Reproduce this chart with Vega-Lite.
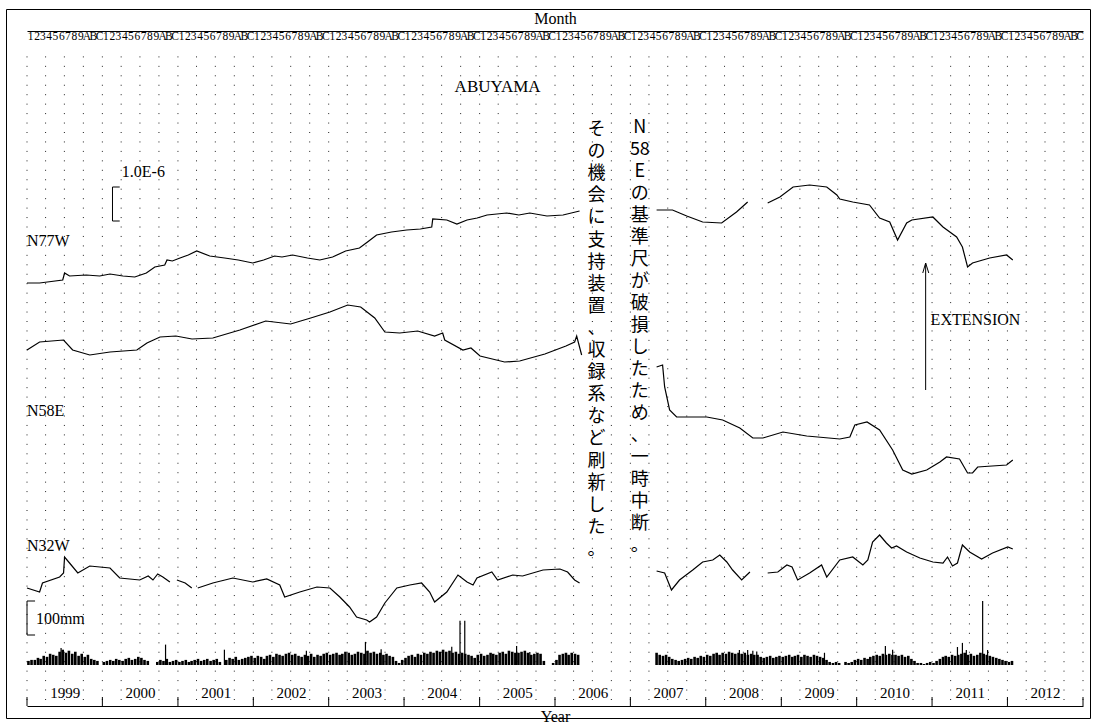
{
  "$schema": "https://vega.github.io/schema/vega-lite/v6.json",
  "width": 1084,
  "height": 709,
  "autosize": {"type": "none"},
  "padding": {"left": 6, "top": 9, "right": 6, "bottom": 7},
  "background": "white",
  "config": {
    "view": {"stroke": "black", "strokeWidth": 1},
    "font": "Liberation Serif",
    "axis": {"labelFont": "Liberation Serif", "titleFont": "Liberation Serif", "labelColor": "black", "titleColor": "black", "titleFontWeight": "normal", "domainColor": "black", "tickColor": "black", "grid": false}
  },
  "datasets": {
    "grid": [
      {"q":"1999-01-01"},{"q":"1999-04-01"},{"q":"1999-07-01"},{"q":"1999-10-01"},
      {"q":"2000-01-01"},{"q":"2000-04-01"},{"q":"2000-07-01"},{"q":"2000-10-01"},
      {"q":"2001-01-01"},{"q":"2001-04-01"},{"q":"2001-07-01"},{"q":"2001-10-01"},
      {"q":"2002-01-01"},{"q":"2002-04-01"},{"q":"2002-07-01"},{"q":"2002-10-01"},
      {"q":"2003-01-01"},{"q":"2003-04-01"},{"q":"2003-07-01"},{"q":"2003-10-01"},
      {"q":"2004-01-01"},{"q":"2004-04-01"},{"q":"2004-07-01"},{"q":"2004-10-01"},
      {"q":"2005-01-01"},{"q":"2005-04-01"},{"q":"2005-07-01"},{"q":"2005-10-01"},
      {"q":"2006-01-01"},{"q":"2006-04-01"},{"q":"2006-07-01"},{"q":"2006-10-01"},
      {"q":"2007-01-01"},{"q":"2007-04-01"},{"q":"2007-07-01"},{"q":"2007-10-01"},
      {"q":"2008-01-01"},{"q":"2008-04-01"},{"q":"2008-07-01"},{"q":"2008-10-01"},
      {"q":"2009-01-01"},{"q":"2009-04-01"},{"q":"2009-07-01"},{"q":"2009-10-01"},
      {"q":"2010-01-01"},{"q":"2010-04-01"},{"q":"2010-07-01"},{"q":"2010-10-01"},
      {"q":"2011-01-01"},{"q":"2011-04-01"},{"q":"2011-07-01"},{"q":"2011-10-01"},
      {"q":"2012-01-01"},{"q":"2012-04-01"},{"q":"2012-07-01"},{"q":"2012-10-01"},
      {"q":"2013-01-01"}
    ],
    "years": [
      {"y":"1999-01-01"},{"y":"2000-01-01"},{"y":"2001-01-01"},{"y":"2002-01-01"},{"y":"2003-01-01"},
      {"y":"2004-01-01"},{"y":"2005-01-01"},{"y":"2006-01-01"},{"y":"2007-01-01"},{"y":"2008-01-01"},
      {"y":"2009-01-01"},{"y":"2010-01-01"},{"y":"2011-01-01"},{"y":"2012-01-01"},{"y":"2013-01-01"}
    ],
    "strain": [
      {"s":"N77W","g":1,"d":"1999-01-01","v":435},{"s":"N77W","g":1,"d":"1999-03-03","v":435},{"s":"N77W","g":1,"d":"1999-06-23","v":438},{"s":"N77W","g":1,"d":"1999-07-02","v":445},{"s":"N77W","g":1,"d":"1999-07-26","v":442},{"s":"N77W","g":1,"d":"1999-10-15","v":443},{"s":"N77W","g":1,"d":"1999-12-19","v":442},{"s":"N77W","g":1,"d":"2000-02-07","v":444},{"s":"N77W","g":1,"d":"2000-04-10","v":442},{"s":"N77W","g":1,"d":"2000-06-06","v":441},{"s":"N77W","g":1,"d":"2000-08-01","v":445},{"s":"N77W","g":1,"d":"2000-09-11","v":451},{"s":"N77W","g":1,"d":"2000-10-29","v":453},{"s":"N77W","g":1,"d":"2000-11-09","v":458},{"s":"N77W","g":1,"d":"2000-12-05","v":457},{"s":"N77W","g":1,"d":"2001-01-11","v":460},{"s":"N77W","g":1,"d":"2001-02-20","v":463},{"s":"N77W","g":1,"d":"2001-04-02","v":467},{"s":"N77W","g":1,"d":"2001-06-04","v":462},{"s":"N77W","g":1,"d":"2001-08-15","v":460},{"s":"N77W","g":1,"d":"2001-10-20","v":458},{"s":"N77W","g":1,"d":"2001-12-29","v":455},{"s":"N77W","g":1,"d":"2002-02-20","v":458},{"s":"N77W","g":1,"d":"2002-04-14","v":462},{"s":"N77W","g":1,"d":"2002-05-20","v":461},{"s":"N77W","g":1,"d":"2002-07-10","v":463},{"s":"N77W","g":1,"d":"2002-09-20","v":460},{"s":"N77W","g":1,"d":"2002-11-19","v":458},{"s":"N77W","g":1,"d":"2003-01-20","v":461},{"s":"N77W","g":1,"d":"2003-03-24","v":467},{"s":"N77W","g":1,"d":"2003-05-30","v":470},{"s":"N77W","g":1,"d":"2003-07-08","v":476},{"s":"N77W","g":1,"d":"2003-08-21","v":483},{"s":"N77W","g":1,"d":"2003-11-01","v":486},{"s":"N77W","g":1,"d":"2004-01-14","v":488},{"s":"N77W","g":1,"d":"2004-03-20","v":489},{"s":"N77W","g":1,"d":"2004-05-14","v":491},{"s":"N77W","g":1,"d":"2004-05-19","v":499},{"s":"N77W","g":1,"d":"2004-07-26","v":498},{"s":"N77W","g":1,"d":"2004-09-13","v":494},{"s":"N77W","g":1,"d":"2004-11-01","v":498},{"s":"N77W","g":1,"d":"2004-12-20","v":500},{"s":"N77W","g":1,"d":"2005-02-06","v":503},{"s":"N77W","g":1,"d":"2005-05-12","v":505},{"s":"N77W","g":1,"d":"2005-07-10","v":503},{"s":"N77W","g":1,"d":"2005-09-01","v":505},{"s":"N77W","g":1,"d":"2005-11-23","v":502},{"s":"N77W","g":1,"d":"2006-02-09","v":503},{"s":"N77W","g":1,"d":"2006-04-30","v":507},
      {"s":"N77W","g":2,"d":"2007-05-08","v":508},{"s":"N77W","g":2,"d":"2007-07-24","v":508},{"s":"N77W","g":2,"d":"2007-10-01","v":502},{"s":"N77W","g":2,"d":"2007-12-17","v":496},{"s":"N77W","g":2,"d":"2008-03-18","v":495},{"s":"N77W","g":2,"d":"2008-05-29","v":506},{"s":"N77W","g":2,"d":"2008-07-22","v":516},
      {"s":"N77W","g":3,"d":"2008-10-27","v":515},{"s":"N77W","g":3,"d":"2008-12-25","v":521},{"s":"N77W","g":3,"d":"2009-02-27","v":531},{"s":"N77W","g":3,"d":"2009-05-18","v":533},{"s":"N77W","g":3,"d":"2009-08-09","v":531},{"s":"N77W","g":3,"d":"2009-09-27","v":523},{"s":"N77W","g":3,"d":"2009-10-11","v":519},{"s":"N77W","g":3,"d":"2009-12-13","v":516},{"s":"N77W","g":3,"d":"2010-03-04","v":513},{"s":"N77W","g":3,"d":"2010-04-22","v":500},{"s":"N77W","g":3,"d":"2010-06-10","v":496},{"s":"N77W","g":3,"d":"2010-07-18","v":478},{"s":"N77W","g":3,"d":"2010-08-31","v":495},{"s":"N77W","g":3,"d":"2010-09-25","v":498},{"s":"N77W","g":3,"d":"2011-01-05","v":501},{"s":"N77W","g":3,"d":"2011-02-23","v":491},{"s":"N77W","g":3,"d":"2011-04-30","v":481},{"s":"N77W","g":3,"d":"2011-05-28","v":471},{"s":"N77W","g":3,"d":"2011-06-22","v":451},{"s":"N77W","g":3,"d":"2011-07-16","v":455},{"s":"N77W","g":3,"d":"2011-10-07","v":460},{"s":"N77W","g":3,"d":"2011-12-28","v":463},{"s":"N77W","g":3,"d":"2012-01-27","v":458},
      {"s":"N58E","g":4,"d":"1999-01-01","v":368},{"s":"N58E","g":4,"d":"1999-03-03","v":376},{"s":"N58E","g":4,"d":"1999-06-27","v":378},{"s":"N58E","g":4,"d":"1999-08-10","v":368},{"s":"N58E","g":4,"d":"1999-11-01","v":363},{"s":"N58E","g":4,"d":"2000-02-07","v":366},{"s":"N58E","g":4,"d":"2000-06-16","v":368},{"s":"N58E","g":4,"d":"2000-08-04","v":375},{"s":"N58E","g":4,"d":"2000-10-06","v":381},{"s":"N58E","g":4,"d":"2000-12-22","v":382},{"s":"N58E","g":4,"d":"2001-03-10","v":379},{"s":"N58E","g":4,"d":"2001-06-19","v":380},{"s":"N58E","g":4,"d":"2001-10-28","v":388},{"s":"N58E","g":4,"d":"2002-03-02","v":397},{"s":"N58E","g":4,"d":"2002-07-01","v":394},{"s":"N58E","g":4,"d":"2002-10-06","v":400},{"s":"N58E","g":4,"d":"2003-01-07","v":406},{"s":"N58E","g":4,"d":"2003-04-03","v":413},{"s":"N58E","g":4,"d":"2003-06-05","v":411},{"s":"N58E","g":4,"d":"2003-08-12","v":400},{"s":"N58E","g":4,"d":"2003-09-30","v":386},{"s":"N58E","g":4,"d":"2003-12-11","v":385},{"s":"N58E","g":4,"d":"2004-03-07","v":387},{"s":"N58E","g":4,"d":"2004-05-28","v":382},{"s":"N58E","g":4,"d":"2004-07-06","v":385},{"s":"N58E","g":4,"d":"2004-07-16","v":378},{"s":"N58E","g":4,"d":"2004-10-12","v":368},{"s":"N58E","g":4,"d":"2004-11-20","v":370},{"s":"N58E","g":4,"d":"2005-01-03","v":362},{"s":"N58E","g":4,"d":"2005-05-02","v":356},{"s":"N58E","g":4,"d":"2005-07-14","v":357},{"s":"N58E","g":4,"d":"2005-11-13","v":364},{"s":"N58E","g":4,"d":"2006-02-23","v":372},{"s":"N58E","g":4,"d":"2006-04-06","v":376},{"s":"N58E","g":4,"d":"2006-04-16","v":382},{"s":"N58E","g":4,"d":"2006-05-10","v":363},
      {"s":"N58E","g":5,"d":"2007-05-08","v":351},{"s":"N58E","g":5,"d":"2007-06-06","v":353},{"s":"N58E","g":5,"d":"2007-06-16","v":331},{"s":"N58E","g":5,"d":"2007-07-10","v":308},{"s":"N58E","g":5,"d":"2007-08-13","v":301},{"s":"N58E","g":5,"d":"2008-01-06","v":301},{"s":"N58E","g":5,"d":"2008-03-23","v":298},{"s":"N58E","g":5,"d":"2008-06-14","v":290},{"s":"N58E","g":5,"d":"2008-08-16","v":280},{"s":"N58E","g":5,"d":"2008-10-04","v":280},{"s":"N58E","g":5,"d":"2009-01-09","v":286},{"s":"N58E","g":5,"d":"2009-05-04","v":282},{"s":"N58E","g":5,"d":"2009-10-11","v":279},{"s":"N58E","g":5,"d":"2009-11-29","v":281},{"s":"N58E","g":5,"d":"2009-12-23","v":293},{"s":"N58E","g":5,"d":"2010-02-20","v":296},{"s":"N58E","g":5,"d":"2010-04-22","v":288},{"s":"N58E","g":5,"d":"2010-06-24","v":268},{"s":"N58E","g":5,"d":"2010-08-12","v":248},{"s":"N58E","g":5,"d":"2010-09-25","v":244},{"s":"N58E","g":5,"d":"2010-12-06","v":248},{"s":"N58E","g":5,"d":"2011-02-08","v":256},{"s":"N58E","g":5,"d":"2011-03-12","v":261},{"s":"N58E","g":5,"d":"2011-05-14","v":259},{"s":"N58E","g":5,"d":"2011-06-22","v":245},{"s":"N58E","g":5,"d":"2011-07-16","v":245},{"s":"N58E","g":5,"d":"2011-08-10","v":251},{"s":"N58E","g":5,"d":"2011-12-28","v":253},{"s":"N58E","g":5,"d":"2012-01-27","v":258},
      {"s":"N32W","g":6,"d":"1999-01-01","v":130},{"s":"N32W","g":6,"d":"1999-03-03","v":126},{"s":"N32W","g":6,"d":"1999-03-17","v":135},{"s":"N32W","g":6,"d":"1999-06-08","v":141},{"s":"N32W","g":6,"d":"1999-06-27","v":145},{"s":"N32W","g":6,"d":"1999-07-02","v":161},{"s":"N32W","g":6,"d":"1999-07-26","v":155},{"s":"N32W","g":6,"d":"1999-09-04","v":145},{"s":"N32W","g":6,"d":"1999-11-01","v":152},{"s":"N32W","g":6,"d":"2000-02-07","v":150},{"s":"N32W","g":6,"d":"2000-03-25","v":140},{"s":"N32W","g":6,"d":"2000-06-30","v":138},{"s":"N32W","g":6,"d":"2000-08-10","v":142},{"s":"N32W","g":6,"d":"2000-09-02","v":138},{"s":"N32W","g":6,"d":"2000-09-25","v":144},{"s":"N32W","g":6,"d":"2000-10-20","v":141},{"s":"N32W","g":6,"d":"2000-11-23","v":136},
      {"s":"N32W","g":7,"d":"2000-12-27","v":138},{"s":"N32W","g":7,"d":"2001-02-05","v":135},{"s":"N32W","g":7,"d":"2001-03-09","v":130},
      {"s":"N32W","g":8,"d":"2001-04-07","v":130},{"s":"N32W","g":8,"d":"2001-06-19","v":135},{"s":"N32W","g":8,"d":"2001-09-24","v":140},{"s":"N32W","g":8,"d":"2001-12-29","v":136},{"s":"N32W","g":8,"d":"2002-03-07","v":139},{"s":"N32W","g":8,"d":"2002-05-09","v":133},{"s":"N32W","g":8,"d":"2002-06-02","v":121},{"s":"N32W","g":8,"d":"2002-08-14","v":126},{"s":"N32W","g":8,"d":"2002-11-05","v":131},{"s":"N32W","g":8,"d":"2003-01-07","v":130},{"s":"N32W","g":8,"d":"2003-02-24","v":121},{"s":"N32W","g":8,"d":"2003-04-12","v":111},{"s":"N32W","g":8,"d":"2003-05-16","v":101},{"s":"N32W","g":8,"d":"2003-07-04","v":98},{"s":"N32W","g":8,"d":"2003-07-18","v":96},{"s":"N32W","g":8,"d":"2003-08-21","v":101},{"s":"N32W","g":8,"d":"2003-09-30","v":115},{"s":"N32W","g":8,"d":"2003-11-27","v":130},{"s":"N32W","g":8,"d":"2004-01-29","v":133},{"s":"N32W","g":8,"d":"2004-03-26","v":135},{"s":"N32W","g":8,"d":"2004-05-04","v":126},{"s":"N32W","g":8,"d":"2004-05-28","v":116},{"s":"N32W","g":8,"d":"2004-07-26","v":126},{"s":"N32W","g":8,"d":"2004-09-18","v":143},{"s":"N32W","g":8,"d":"2004-11-01","v":136},{"s":"N32W","g":8,"d":"2004-11-30","v":133},{"s":"N32W","g":8,"d":"2004-12-19","v":140},{"s":"N32W","g":8,"d":"2005-03-01","v":146},{"s":"N32W","g":8,"d":"2005-03-29","v":138},{"s":"N32W","g":8,"d":"2005-06-10","v":143},{"s":"N32W","g":8,"d":"2005-07-28","v":142},{"s":"N32W","g":8,"d":"2005-11-04","v":148},{"s":"N32W","g":8,"d":"2006-01-25","v":149},{"s":"N32W","g":8,"d":"2006-03-03","v":146},{"s":"N32W","g":8,"d":"2006-04-06","v":138},{"s":"N32W","g":8,"d":"2006-04-30","v":135},
      {"s":"N32W","g":9,"d":"2007-05-08","v":147},{"s":"N32W","g":9,"d":"2007-06-16","v":145},{"s":"N32W","g":9,"d":"2007-07-19","v":128},{"s":"N32W","g":9,"d":"2007-08-27","v":138},{"s":"N32W","g":9,"d":"2007-10-30","v":148},{"s":"N32W","g":9,"d":"2007-12-17","v":156},{"s":"N32W","g":9,"d":"2008-02-04","v":158},{"s":"N32W","g":9,"d":"2008-03-09","v":163},{"s":"N32W","g":9,"d":"2008-04-12","v":156},{"s":"N32W","g":9,"d":"2008-05-10","v":148},{"s":"N32W","g":9,"d":"2008-06-23","v":138},{"s":"N32W","g":9,"d":"2008-08-02","v":146},
      {"s":"N32W","g":10,"d":"2008-10-27","v":145},{"s":"N32W","g":10,"d":"2008-12-15","v":146},{"s":"N32W","g":10,"d":"2009-01-28","v":153},{"s":"N32W","g":10,"d":"2009-02-22","v":151},{"s":"N32W","g":10,"d":"2009-03-21","v":138},{"s":"N32W","g":10,"d":"2009-05-18","v":145},{"s":"N32W","g":10,"d":"2009-07-15","v":153},{"s":"N32W","g":10,"d":"2009-08-09","v":141},{"s":"N32W","g":10,"d":"2009-10-11","v":158},{"s":"N32W","g":10,"d":"2009-12-13","v":161},{"s":"N32W","g":10,"d":"2010-01-31","v":153},{"s":"N32W","g":10,"d":"2010-02-24","v":158},{"s":"N32W","g":10,"d":"2010-03-19","v":176},{"s":"N32W","g":10,"d":"2010-04-22","v":183},{"s":"N32W","g":10,"d":"2010-05-25","v":175},{"s":"N32W","g":10,"d":"2010-06-19","v":170},{"s":"N32W","g":10,"d":"2010-07-13","v":172},{"s":"N32W","g":10,"d":"2010-08-31","v":166},{"s":"N32W","g":10,"d":"2010-11-03","v":160},{"s":"N32W","g":10,"d":"2011-01-05","v":156},{"s":"N32W","g":10,"d":"2011-02-23","v":155},{"s":"N32W","g":10,"d":"2011-03-17","v":161},{"s":"N32W","g":10,"d":"2011-04-10","v":152},{"s":"N32W","g":10,"d":"2011-05-04","v":155},{"s":"N32W","g":10,"d":"2011-05-28","v":173},{"s":"N32W","g":10,"d":"2011-07-02","v":166},{"s":"N32W","g":10,"d":"2011-08-29","v":159},{"s":"N32W","g":10,"d":"2011-10-21","v":165},{"s":"N32W","g":10,"d":"2012-01-03","v":171},{"s":"N32W","g":10,"d":"2012-01-27","v":169}
    ],
    "rain": [
      {"d":"1999-01-08","p":12},{"d":"1999-01-23","p":15},{"d":"1999-02-08","p":15},{"d":"1999-02-23","p":21},{"d":"1999-03-08","p":18},{"d":"1999-03-23","p":27},{"d":"1999-04-08","p":24},{"d":"1999-04-23","p":33},{"d":"1999-05-08","p":30},{"d":"1999-05-23","p":27},{"d":"1999-06-08","p":39},{"d":"1999-06-23","p":45},{"d":"1999-07-08","p":36},{"d":"1999-07-23","p":42},{"d":"1999-08-08","p":33},{"d":"1999-08-23","p":39},{"d":"1999-09-08","p":27},{"d":"1999-09-23","p":33},{"d":"1999-10-08","p":24},{"d":"1999-10-23","p":30},{"d":"1999-11-08","p":18},{"d":"1999-11-23","p":15},{"d":"1999-12-08","p":12},
      {"d":"2000-01-08","p":9},{"d":"2000-01-23","p":12},{"d":"2000-02-08","p":15},{"d":"2000-02-23","p":12},{"d":"2000-03-08","p":18},{"d":"2000-03-23","p":15},{"d":"2000-04-08","p":12},{"d":"2000-04-23","p":18},{"d":"2000-05-08","p":21},{"d":"2000-05-23","p":15},{"d":"2000-06-08","p":18},{"d":"2000-06-23","p":24},{"d":"2000-07-08","p":21},{"d":"2000-07-23","p":15},{"d":"2000-08-08","p":12},{"d":"2000-09-23","p":9},{"d":"2000-10-08","p":15},{"d":"2000-10-23","p":12},{"d":"2000-11-08","p":18},{"d":"2000-11-23","p":9},{"d":"2000-12-08","p":12},{"d":"2000-12-23","p":15},
      {"d":"2001-01-08","p":9},{"d":"2001-01-23","p":12},{"d":"2001-02-08","p":15},{"d":"2001-02-23","p":9},{"d":"2001-03-08","p":12},{"d":"2001-03-23","p":15},{"d":"2001-04-08","p":18},{"d":"2001-04-23","p":12},{"d":"2001-05-08","p":15},{"d":"2001-05-23","p":18},{"d":"2001-06-08","p":12},{"d":"2001-06-23","p":15},{"d":"2001-07-08","p":18},{"d":"2001-07-23","p":9},{"d":"2001-08-23","p":15},{"d":"2001-09-08","p":21},{"d":"2001-09-23","p":18},{"d":"2001-10-08","p":24},{"d":"2001-10-23","p":15},{"d":"2001-11-08","p":18},{"d":"2001-11-23","p":21},{"d":"2001-12-08","p":24},{"d":"2001-12-23","p":27},
      {"d":"2002-01-08","p":21},{"d":"2002-01-23","p":27},{"d":"2002-02-08","p":24},{"d":"2002-02-23","p":18},{"d":"2002-03-08","p":27},{"d":"2002-03-23","p":30},{"d":"2002-04-08","p":24},{"d":"2002-04-23","p":33},{"d":"2002-05-08","p":30},{"d":"2002-05-23","p":27},{"d":"2002-06-08","p":33},{"d":"2002-06-23","p":36},{"d":"2002-07-08","p":30},{"d":"2002-07-23","p":33},{"d":"2002-08-08","p":27},{"d":"2002-08-23","p":24},{"d":"2002-09-08","p":30},{"d":"2002-09-23","p":27},{"d":"2002-10-08","p":33},{"d":"2002-10-23","p":24},{"d":"2002-11-08","p":30},{"d":"2002-11-23","p":27},{"d":"2002-12-08","p":33},{"d":"2002-12-23","p":36},
      {"d":"2003-01-08","p":30},{"d":"2003-01-23","p":33},{"d":"2003-02-08","p":36},{"d":"2003-02-23","p":30},{"d":"2003-03-08","p":33},{"d":"2003-03-23","p":39},{"d":"2003-04-08","p":36},{"d":"2003-04-23","p":30},{"d":"2003-05-08","p":33},{"d":"2003-05-23","p":39},{"d":"2003-06-08","p":36},{"d":"2003-06-23","p":33},{"d":"2003-07-08","p":42},{"d":"2003-07-23","p":36},{"d":"2003-08-08","p":39},{"d":"2003-08-23","p":33},{"d":"2003-09-08","p":36},{"d":"2003-09-23","p":30},{"d":"2003-10-08","p":33},{"d":"2003-10-23","p":27},{"d":"2003-11-08","p":24},{"d":"2003-11-23","p":12},{"d":"2003-12-08","p":6},{"d":"2003-12-23","p":15},
      {"d":"2004-01-08","p":21},{"d":"2004-01-23","p":27},{"d":"2004-02-08","p":30},{"d":"2004-02-23","p":24},{"d":"2004-03-08","p":33},{"d":"2004-03-23","p":30},{"d":"2004-04-08","p":36},{"d":"2004-04-23","p":33},{"d":"2004-05-08","p":39},{"d":"2004-05-23","p":36},{"d":"2004-06-08","p":42},{"d":"2004-06-23","p":39},{"d":"2004-07-08","p":45},{"d":"2004-07-23","p":39},{"d":"2004-08-08","p":42},{"d":"2004-08-23","p":36},{"d":"2004-09-08","p":39},{"d":"2004-09-23","p":33},{"d":"2004-10-08","p":36},{"d":"2004-10-23","p":33},{"d":"2004-11-08","p":30},{"d":"2004-11-23","p":27},{"d":"2004-12-08","p":21},{"d":"2004-12-23","p":30},
      {"d":"2005-01-08","p":33},{"d":"2005-01-23","p":27},{"d":"2005-02-08","p":30},{"d":"2005-02-23","p":36},{"d":"2005-03-08","p":33},{"d":"2005-03-23","p":30},{"d":"2005-04-08","p":36},{"d":"2005-04-23","p":39},{"d":"2005-05-08","p":33},{"d":"2005-05-23","p":42},{"d":"2005-06-08","p":39},{"d":"2005-06-23","p":36},{"d":"2005-07-08","p":36},{"d":"2005-07-23","p":39},{"d":"2005-08-08","p":42},{"d":"2005-08-23","p":36},{"d":"2005-09-08","p":30},{"d":"2005-09-23","p":33},{"d":"2005-10-08","p":36},{"d":"2005-10-23","p":33},{"d":"2005-11-08","p":12},{"d":"2005-12-23","p":6},
      {"d":"2006-01-08","p":15},{"d":"2006-01-23","p":30},{"d":"2006-02-08","p":33},{"d":"2006-02-23","p":36},{"d":"2006-03-08","p":30},{"d":"2006-03-23","p":36},{"d":"2006-04-08","p":33},{"d":"2006-04-23","p":30},
      {"d":"2007-05-08","p":36},{"d":"2007-05-23","p":30},{"d":"2007-06-08","p":27},{"d":"2007-06-23","p":30},{"d":"2007-07-08","p":24},{"d":"2007-07-23","p":18},{"d":"2007-08-08","p":15},{"d":"2007-08-23","p":12},{"d":"2007-09-08","p":15},{"d":"2007-09-23","p":18},{"d":"2007-10-08","p":21},{"d":"2007-10-23","p":18},{"d":"2007-11-08","p":24},{"d":"2007-11-23","p":21},{"d":"2007-12-08","p":27},{"d":"2007-12-23","p":24},
      {"d":"2008-01-08","p":30},{"d":"2008-01-23","p":27},{"d":"2008-02-08","p":33},{"d":"2008-02-23","p":36},{"d":"2008-03-08","p":30},{"d":"2008-03-23","p":36},{"d":"2008-04-08","p":33},{"d":"2008-04-23","p":39},{"d":"2008-05-08","p":36},{"d":"2008-05-23","p":33},{"d":"2008-06-08","p":36},{"d":"2008-06-23","p":33},{"d":"2008-07-08","p":36},{"d":"2008-07-23","p":30},{"d":"2008-08-08","p":33},{"d":"2008-08-23","p":30},{"d":"2008-09-08","p":30},{"d":"2008-09-23","p":24},{"d":"2008-10-08","p":21},{"d":"2008-10-23","p":24},{"d":"2008-11-08","p":27},{"d":"2008-11-23","p":21},{"d":"2008-12-08","p":24},{"d":"2008-12-23","p":27},
      {"d":"2009-01-08","p":24},{"d":"2009-01-23","p":27},{"d":"2009-02-08","p":30},{"d":"2009-02-23","p":24},{"d":"2009-03-08","p":27},{"d":"2009-03-23","p":30},{"d":"2009-04-08","p":24},{"d":"2009-04-23","p":30},{"d":"2009-05-08","p":27},{"d":"2009-05-23","p":24},{"d":"2009-06-08","p":30},{"d":"2009-06-23","p":27},{"d":"2009-07-08","p":24},{"d":"2009-07-23","p":21},{"d":"2009-08-08","p":15},{"d":"2009-08-23","p":9},{"d":"2009-09-08","p":6},{"d":"2009-09-23","p":9},{"d":"2009-10-08","p":6},{"d":"2009-11-08","p":9},{"d":"2009-11-23","p":6},{"d":"2009-12-08","p":9},{"d":"2009-12-23","p":15},
      {"d":"2010-01-08","p":18},{"d":"2010-01-23","p":15},{"d":"2010-02-08","p":21},{"d":"2010-02-23","p":18},{"d":"2010-03-08","p":24},{"d":"2010-03-23","p":27},{"d":"2010-04-08","p":30},{"d":"2010-04-23","p":27},{"d":"2010-05-08","p":33},{"d":"2010-05-23","p":30},{"d":"2010-06-08","p":33},{"d":"2010-06-23","p":30},{"d":"2010-07-08","p":30},{"d":"2010-07-23","p":27},{"d":"2010-08-08","p":30},{"d":"2010-08-23","p":24},{"d":"2010-09-08","p":27},{"d":"2010-09-23","p":18},{"d":"2010-10-08","p":12},{"d":"2010-10-23","p":6},{"d":"2010-11-08","p":6},{"d":"2010-11-23","p":3},{"d":"2010-12-08","p":6},{"d":"2010-12-23","p":9},
      {"d":"2011-01-08","p":6},{"d":"2011-01-23","p":12},{"d":"2011-02-08","p":18},{"d":"2011-02-23","p":24},{"d":"2011-03-08","p":27},{"d":"2011-03-23","p":24},{"d":"2011-04-08","p":30},{"d":"2011-04-23","p":27},{"d":"2011-05-08","p":30},{"d":"2011-05-23","p":33},{"d":"2011-06-08","p":36},{"d":"2011-06-23","p":30},{"d":"2011-07-08","p":33},{"d":"2011-07-23","p":27},{"d":"2011-08-08","p":30},{"d":"2011-08-23","p":36},{"d":"2011-09-08","p":33},{"d":"2011-09-23","p":30},{"d":"2011-10-08","p":27},{"d":"2011-10-23","p":24},{"d":"2011-11-08","p":21},{"d":"2011-11-23","p":18},{"d":"2011-12-08","p":15},{"d":"2011-12-23","p":12},
      {"d":"2012-01-08","p":9},{"d":"2012-01-23","p":12}
    ],
    "spikes": [
      {"d":"1999-06-15","p":50},{"d":"2000-11-02","p":60},{"d":"2001-08-14","p":45},{"d":"2002-09-15","p":42},{"d":"2003-06-28","p":68},{"d":"2003-09-12","p":46},
      {"d":"2004-08-19","p":54},{"d":"2004-09-28","p":130},{"d":"2004-10-21","p":130},{"d":"2005-06-29","p":56},{"d":"2005-09-01","p":38},
      {"d":"2008-06-12","p":44},{"d":"2008-07-22","p":44},{"d":"2008-08-16","p":42},{"d":"2008-09-04","p":40},{"d":"2009-07-29","p":36},
      {"d":"2010-05-20","p":56},{"d":"2010-06-24","p":45},{"d":"2011-05-04","p":53},{"d":"2011-05-28","p":65},{"d":"2011-06-16","p":44},
      {"d":"2011-09-03","p":188},{"d":"2011-09-27","p":44}
    ],
    "marks": [
      {"d":"2000-02-19","d2":"2000-02-19","v":497,"v2":531},
      {"d":"2000-02-19","d2":"2000-03-25","v":531,"v2":531},
      {"d":"2000-02-19","d2":"2000-03-25","v":497,"v2":497},
      {"d":"1999-01-01","d2":"1999-01-01","v":83,"v2":117},
      {"d":"1999-01-01","d2":"1999-02-09","v":117,"v2":117},
      {"d":"1999-01-01","d2":"1999-02-09","v":83,"v2":83},
      {"d":"2010-12-01","d2":"2010-12-01","v":328,"v2":455},
      {"d":"2010-12-01","d2":"2010-11-17","v":455,"v2":445},
      {"d":"2010-12-01","d2":"2010-12-16","v":455,"v2":445}
    ]
  },
  "layer": [
    {
      "data": {"name": "grid"},
      "mark": {"type": "rule", "strokeDash": [1, 8.45], "strokeWidth": 1, "color": "#222"},
      "encoding": {
        "x": {"field": "q", "type": "temporal",
          "scale": {"type": "utc", "domain": [{"year":1999,"month":1,"date":1,"utc":true},{"year":2013,"month":1,"date":1,"utc":true}], "range": [21, 1077]},
          "axis": {"orient": "top", "offset": -22, "title": "Month", "titleFontSize": 16, "titleX": 549, "titleY": -13, "titleBaseline": "middle", "titleAlign": "center", "titleAnchor": null,
            "ticks": false, "domain": true, "domainWidth": 1,
            "tickCount": {"interval": "month", "step": 1},
            "labelExpr": "utcyear(datum.value) >= 2013 ? '' : ['1','2','3','4','5','6','7','8','9','A','B','C'][utcmonth(datum.value)]",
            "labelOffset": 3.1, "labelPadding": -10, "labelFontSize": 11.5, "labelAngle": 0,
            "labelOverlap": false, "labelFlush": false, "labelBound": false}},
        "y": {"datum": 18, "type": "quantitative", "scale": {"domain": [0, 709], "nice": false, "zero": false}, "axis": null},
        "y2": {"datum": 666}
      }
    },
    {
      "data": {"name": "years"},
      "mark": {"type": "rule", "strokeWidth": 1, "color": "black"},
      "encoding": {
        "x": {"field": "y", "type": "temporal",
          "axis": {"orient": "bottom", "offset": -12, "title": "Year", "titleFontSize": 16, "titleX": 549, "titleY": 10, "titleBaseline": "middle", "titleAlign": "center", "titleAnchor": null,
            "tickCount": {"interval": "year", "step": 1}, "ticks": false, "domainWidth": 1,
            "labelExpr": "utcyear(datum.value) >= 2013 ? '' : utcFormat(datum.value, '%Y')",
            "labelOffset": 37.7, "labelPadding": -14, "labelBaseline": "middle", "labelFontSize": 15, "labelAngle": 0,
            "labelOverlap": false, "labelFlush": false, "labelBound": false}},
        "y": {"datum": 12, "type": "quantitative", "scale": {"domain": [0, 709], "nice": false, "zero": false}, "axis": null},
        "y2": {"datum": 21}
      }
    },
    {
      "data": {"name": "rain"},
      "mark": {"type": "rule", "strokeWidth": 2.6, "color": "black"},
      "encoding": {
        "x": {"field": "d", "type": "temporal", "axis": null},
        "y": {"field": "p", "type": "quantitative", "scale": {"domain": [0, 100], "range": [656, 622], "nice": false, "zero": true}, "axis": null},
        "y2": {"datum": 0}
      }
    },
    {
      "data": {"name": "spikes"},
      "mark": {"type": "rule", "strokeWidth": 1.2, "color": "black"},
      "encoding": {
        "x": {"field": "d", "type": "temporal", "axis": null},
        "y": {"field": "p", "type": "quantitative", "scale": {"domain": [0, 100], "range": [656, 622], "nice": false, "zero": true}, "axis": null},
        "y2": {"datum": 0}
      }
    },
    {
      "data": {"name": "strain"},
      "mark": {"type": "line", "color": "black", "strokeWidth": 1.2},
      "encoding": {
        "x": {"field": "d", "type": "temporal", "axis": null},
        "y": {"field": "v", "type": "quantitative", "scale": {"domain": [0, 709], "nice": false, "zero": false}, "axis": null},
        "detail": {"field": "g", "type": "nominal"}
      }
    },
    {
      "data": {"name": "marks"},
      "mark": {"type": "rule", "color": "black", "strokeWidth": 1},
      "encoding": {
        "x": {"field": "d", "type": "temporal", "axis": null},
        "x2": {"field": "d2"},
        "y": {"field": "v", "type": "quantitative", "scale": {"domain": [0, 709], "nice": false, "zero": false}, "axis": null},
        "y2": {"field": "v2"}
      }
    },
    {
      "data": {"values": [
        {"t": "N77W", "d": "1999-01-01", "v": 477},
        {"t": "N58E", "d": "1999-01-01", "v": 307},
        {"t": "N32W", "d": "1999-01-01", "v": 172},
        {"t": "1.0E-6", "d": "2000-04-04", "v": 546},
        {"t": "100mm", "d": "1999-02-13", "v": 99},
        {"t": "EXTENSION", "d": "2010-12-25", "v": 398}
      ]},
      "mark": {"type": "text", "align": "left", "baseline": "middle", "font": "Liberation Serif", "fontSize": 16, "color": "black"},
      "encoding": {
        "x": {"field": "d", "type": "temporal", "axis": null},
        "y": {"field": "v", "type": "quantitative", "scale": {"domain": [0, 709], "nice": false, "zero": false}, "axis": null},
        "text": {"field": "t"}
      }
    },
    {
      "data": {"values": [{"t": "ABUYAMA", "d": "2005-03-29", "v": 631}]},
      "mark": {"type": "text", "align": "center", "baseline": "middle", "font": "Liberation Serif", "fontSize": 17, "color": "black"},
      "encoding": {
        "x": {"field": "d", "type": "temporal", "axis": null},
        "y": {"field": "v", "type": "quantitative", "scale": {"domain": [0, 709], "nice": false, "zero": false}, "axis": null},
        "text": {"field": "t"}
      }
    },
    {
      "data": {"values": [{"t": ["N","58","E","の","基","準","尺","が","破","損","し","た","た","め","、","一","時","中","断","。"], "d": "2007-02-16", "v": 599}]},
      "mark": {"type": "text", "align": "center", "baseline": "top", "font": "Noto Sans CJK JP", "fontSize": 18, "lineHeight": 22, "color": "black"},
      "encoding": {
        "x": {"field": "d", "type": "temporal", "axis": null},
        "y": {"field": "v", "type": "quantitative", "scale": {"domain": [0, 709], "nice": false, "zero": false}, "axis": null},
        "text": {"field": "t"}
      }
    },
    {
      "data": {"values": [{"t": ["そ","の","機","会","に","支","持","装","置","、","収","録","系","な","ど","刷","新","し","た","。"], "d": "2006-07-21", "v": 597}]},
      "mark": {"type": "text", "align": "center", "baseline": "top", "font": "Noto Sans CJK JP", "fontSize": 18, "lineHeight": 22.1, "color": "black"},
      "encoding": {
        "x": {"field": "d", "type": "temporal", "axis": null},
        "y": {"field": "v", "type": "quantitative", "scale": {"domain": [0, 709], "nice": false, "zero": false}, "axis": null},
        "text": {"field": "t"}
      }
    }
  ],
  "resolve": {"scale": {"y": "independent"}, "axis": {"x": "independent"}}
}
